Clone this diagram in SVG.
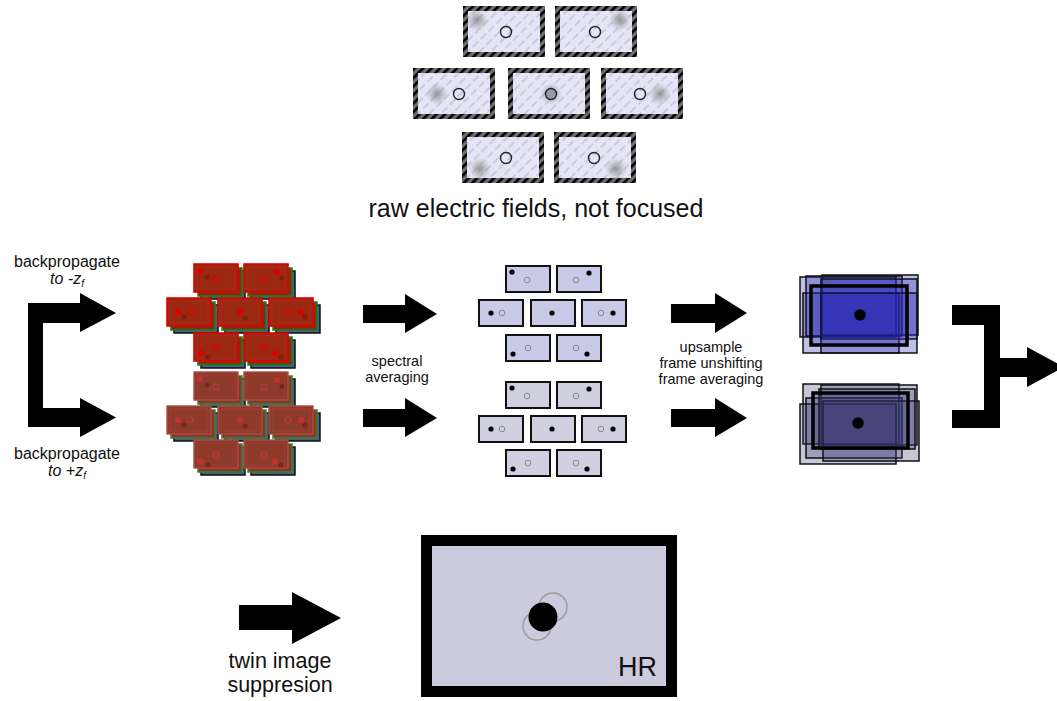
<svg xmlns="http://www.w3.org/2000/svg" xmlns:xlink="http://www.w3.org/1999/xlink" width="1057" height="701" viewBox="0 0 1057 701">
  <style>
    .lbl { font-family: "Liberation Sans", Arial, sans-serif; fill: #111; }
    .it { font-style: italic; }
    .arrow { fill: #000; }
    .hole { fill: none; stroke: #222; stroke-width: 1.4; }
    .pbox { stroke: #111; stroke-width: 2; }
    .pa { fill: #c9c9e8; }
    .pb { fill: #d0d0e0; }
    .dot { fill: #000; }
    .ring { fill: none; stroke: #888; stroke-width: 1; }
    .stackA rect { fill: #2323b0; fill-opacity: 0.29; stroke: #111; stroke-width: 1.5; }
    .stackB rect { fill: #34346e; fill-opacity: 0.28; stroke: #111; stroke-width: 1.5; }
    .stackA rect.thick, .stackB rect.thick { stroke-width: 3.5; stroke: #000; }
  </style>
  <defs>
    <!-- striped frame of the raw field tiles -->
    <pattern id="frameStripe" patternUnits="userSpaceOnUse" width="6" height="6" patternTransform="rotate(45)">
      <rect width="6" height="6" fill="#6e6e6e"/>
      <rect x="0" y="0" width="2.6" height="6" fill="#000"/>
    </pattern>
    <!-- faint diagonal dashes inside the raw field tiles -->
    <pattern id="hatch" patternUnits="userSpaceOnUse" width="11" height="8" patternTransform="rotate(-45)">
      <rect width="11" height="8" fill="#e5e5f3"/>
      <line x1="1" y1="4" x2="7" y2="4" stroke="#c8c8e8" stroke-width="2" stroke-linecap="round"/>
    </pattern>
    <radialGradient id="blob">
      <stop offset="0" stop-color="#777" stop-opacity="0.75"/>
      <stop offset="0.5" stop-color="#888" stop-opacity="0.4"/>
      <stop offset="1" stop-color="#999" stop-opacity="0"/>
    </radialGradient>
    <!-- raw tile: striped frame with hatched interior -->
    <g id="rawTile">
      <rect x="0" y="0" width="82" height="51" fill="url(#frameStripe)"/>
      <rect x="5" y="5" width="72" height="41" fill="url(#hatch)"/>
    </g>
    <!-- colour-channel stack, bright -->
    <g id="rbA">
      <rect x="7" y="7" width="44" height="28" fill="#4a5a9a" stroke="#111" stroke-width="1.5"/>
      <rect x="4" y="4" width="44" height="28" fill="#8a2a14" stroke="#0a8a0a" stroke-width="1.5"/>
      <rect x="0" y="0" width="44" height="28" fill="#9b2912" stroke="#e00000" stroke-width="1.6"/>
      <rect x="3" y="3" width="38" height="22" fill="none" stroke="#b8301c" stroke-width="0.8" opacity="0.7"/>
    </g>
    <!-- colour-channel stack, muted -->
    <g id="rbB">
      <rect x="7" y="7" width="44" height="28" fill="#4a5a8e" stroke="#111" stroke-width="1.5"/>
      <rect x="4" y="4" width="44" height="28" fill="#8a3628" stroke="#2a8a2a" stroke-width="1.5"/>
      <rect x="0" y="0" width="44" height="28" fill="#8e3a2a" stroke="#b04848" stroke-width="1.4"/>
      <rect x="3" y="3" width="38" height="22" fill="none" stroke="#a8443a" stroke-width="0.8" opacity="0.7"/>
    </g>
  </defs>

  <!-- raw electric fields -->
  <g id="raw-fields">
    <use xlink:href="#rawTile" x="463" y="6"/>
    <use xlink:href="#rawTile" x="555" y="6"/>
    <use xlink:href="#rawTile" x="413" y="68"/>
    <use xlink:href="#rawTile" x="508" y="68"/>
    <use xlink:href="#rawTile" x="601" y="68"/>
    <use xlink:href="#rawTile" x="462" y="132"/>
    <use xlink:href="#rawTile" x="554" y="132"/>
    <circle cx="477" cy="20" r="11" fill="url(#blob)"/>
    <circle cx="620" cy="20" r="11" fill="url(#blob)"/>
    <circle cx="437" cy="94" r="11" fill="url(#blob)"/>
    <circle cx="551" cy="94" r="11" fill="url(#blob)"/>
    <circle cx="660" cy="94" r="11" fill="url(#blob)"/>
    <circle cx="480" cy="169" r="11" fill="url(#blob)"/>
    <circle cx="616" cy="169" r="11" fill="url(#blob)"/>
    <circle class="hole" cx="506" cy="32" r="5.5"/>
    <circle class="hole" cx="595" cy="32" r="5.5"/>
    <circle class="hole" cx="459" cy="94" r="5.5"/>
    <circle class="hole" cx="551" cy="94" r="5.5" style="fill:#9a9aa6"/>
    <circle class="hole" cx="640" cy="94" r="5.5"/>
    <circle class="hole" cx="506" cy="158" r="5.5"/>
    <circle class="hole" cx="594" cy="158" r="5.5"/>
    <text class="lbl" x="536" y="217" font-size="25" text-anchor="middle">raw electric fields, not focused</text>
  </g>

  <!-- backpropagated colour stacks -->
  <g id="backprop-stacks">
    <use xlink:href="#rbA" x="194" y="264"/>
    <use xlink:href="#rbA" x="244" y="264"/>
    <use xlink:href="#rbA" x="167" y="298"/>
    <use xlink:href="#rbA" x="218" y="298"/>
    <use xlink:href="#rbA" x="269" y="298"/>
    <use xlink:href="#rbA" x="194" y="333"/>
    <use xlink:href="#rbA" x="244" y="333"/>
    <g fill="#e00000">
      <circle cx="200" cy="271" r="3"/>
      <circle cx="277" cy="272" r="3"/>
      <circle cx="178" cy="312" r="3"/>
      <circle cx="240" cy="312" r="3"/>
      <circle cx="301" cy="312" r="3"/>
      <circle cx="201" cy="353" r="3"/>
      <circle cx="275" cy="353" r="3"/>
    </g>
    <g fill="none" stroke="#e00000" stroke-width="1.2">
      <circle cx="216" cy="279" r="3"/>
      <circle cx="264" cy="279" r="3"/>
      <circle cx="190" cy="312" r="3"/>
      <circle cx="288" cy="312" r="3"/>
      <circle cx="216" cy="347" r="3"/>
      <circle cx="264" cy="347" r="3"/>
    </g>
    <g fill="#6e1c0c" opacity="0.6">
      <circle cx="207" cy="277" r="2.6"/>
      <circle cx="282" cy="278" r="2.6"/>
      <circle cx="184" cy="317" r="2.6"/>
      <circle cx="245" cy="318" r="2.6"/>
      <circle cx="305" cy="317" r="2.6"/>
      <circle cx="208" cy="357" r="2.6"/>
      <circle cx="281" cy="357" r="2.6"/>
    </g>

    <use xlink:href="#rbB" x="194" y="372"/>
    <use xlink:href="#rbB" x="244" y="372"/>
    <use xlink:href="#rbB" x="167" y="406"/>
    <use xlink:href="#rbB" x="218" y="406"/>
    <use xlink:href="#rbB" x="269" y="406"/>
    <use xlink:href="#rbB" x="194" y="440"/>
    <use xlink:href="#rbB" x="244" y="440"/>
    <g fill="#c83030">
      <circle cx="200" cy="379" r="3"/>
      <circle cx="277" cy="380" r="3"/>
      <circle cx="178" cy="420" r="3"/>
      <circle cx="240" cy="420" r="3"/>
      <circle cx="301" cy="420" r="3"/>
      <circle cx="201" cy="461" r="3"/>
      <circle cx="275" cy="461" r="3"/>
    </g>
    <g fill="none" stroke="#b83a3a" stroke-width="1.1">
      <circle cx="216" cy="387" r="3"/>
      <circle cx="264" cy="387" r="3"/>
      <circle cx="190" cy="420" r="3"/>
      <circle cx="288" cy="420" r="3"/>
      <circle cx="216" cy="455" r="3"/>
      <circle cx="264" cy="455" r="3"/>
    </g>
    <g fill="#5e1c10" opacity="0.55">
      <circle cx="207" cy="385" r="2.6"/>
      <circle cx="282" cy="386" r="2.6"/>
      <circle cx="184" cy="425" r="2.6"/>
      <circle cx="245" cy="426" r="2.6"/>
      <circle cx="305" cy="425" r="2.6"/>
      <circle cx="208" cy="465" r="2.6"/>
      <circle cx="281" cy="465" r="2.6"/>
    </g>
  </g>

  <!-- spectrally averaged frames -->
  <g id="spectral-averaged">
    <rect class="pbox pa" x="506" y="266" width="44" height="26"/>
    <rect class="pbox pa" x="557" y="266" width="44" height="26"/>
    <rect class="pbox pa" x="479" y="300" width="44" height="26"/>
    <rect class="pbox pa" x="531" y="300" width="44" height="26"/>
    <rect class="pbox pa" x="582" y="300" width="44" height="26"/>
    <rect class="pbox pa" x="506" y="335" width="44" height="26"/>
    <rect class="pbox pa" x="557" y="335" width="44" height="26"/>
    <circle class="dot" cx="512" cy="272" r="2.6"/>
    <circle class="dot" cx="589" cy="273" r="2.6"/>
    <circle class="dot" cx="491" cy="313" r="2.6"/>
    <circle class="dot" cx="552" cy="313" r="2.6"/>
    <circle class="dot" cx="613" cy="313" r="2.6"/>
    <circle class="dot" cx="513" cy="354" r="2.6"/>
    <circle class="dot" cx="587" cy="354" r="2.6"/>
    <circle class="ring" cx="527" cy="280" r="2.8"/>
    <circle class="ring" cx="576" cy="280" r="2.8"/>
    <circle class="ring" cx="502" cy="313" r="2.8"/>
    <circle class="ring" cx="601" cy="313" r="2.8"/>
    <circle class="ring" cx="528" cy="348" r="2.8"/>
    <circle class="ring" cx="576" cy="348" r="2.8"/>

    <rect class="pbox pb" x="506" y="382" width="44" height="26"/>
    <rect class="pbox pb" x="557" y="382" width="44" height="26"/>
    <rect class="pbox pb" x="479" y="416" width="44" height="26"/>
    <rect class="pbox pb" x="531" y="416" width="44" height="26"/>
    <rect class="pbox pb" x="582" y="416" width="44" height="26"/>
    <rect class="pbox pb" x="506" y="450" width="44" height="26"/>
    <rect class="pbox pb" x="557" y="450" width="44" height="26"/>
    <circle class="dot" cx="512" cy="388" r="2.6"/>
    <circle class="dot" cx="589" cy="389" r="2.6"/>
    <circle class="dot" cx="491" cy="429" r="2.6"/>
    <circle class="dot" cx="552" cy="429" r="2.6"/>
    <circle class="dot" cx="613" cy="429" r="2.6"/>
    <circle class="dot" cx="513" cy="469" r="2.6"/>
    <circle class="dot" cx="587" cy="469" r="2.6"/>
    <circle class="ring" cx="527" cy="396" r="2.8"/>
    <circle class="ring" cx="576" cy="396" r="2.8"/>
    <circle class="ring" cx="502" cy="429" r="2.8"/>
    <circle class="ring" cx="601" cy="429" r="2.8"/>
    <circle class="ring" cx="528" cy="463" r="2.8"/>
    <circle class="ring" cx="576" cy="463" r="2.8"/>
  </g>

  <!-- upsampled, unshifted frame stacks -->
  <g id="frame-stack-minus" class="stackA">
    <rect x="800" y="277" width="96" height="60"/>
    <rect x="822" y="275" width="96" height="60"/>
    <rect x="803" y="293" width="96" height="60"/>
    <rect x="806" y="276" width="96" height="60"/>
    <rect x="821" y="279" width="96" height="60"/>
    <rect x="821" y="293" width="96" height="60"/>
    <rect class="thick" x="811" y="286" width="96" height="59"/>
    <circle cx="860" cy="315" r="5.8" fill="#000"/>
  </g>
  <g id="frame-stack-plus" class="stackB">
    <rect x="803" y="384" width="96" height="60"/>
    <rect x="821" y="385" width="96" height="60"/>
    <rect x="800" y="404" width="96" height="60"/>
    <rect x="806" y="398" width="96" height="60"/>
    <rect x="823" y="401" width="96" height="60"/>
    <rect x="819" y="389" width="96" height="60"/>
    <rect class="thick" x="813" y="393" width="95" height="55"/>
    <circle cx="858" cy="423" r="5.8" fill="#000"/>
  </g>

  <!-- high resolution result -->
  <g id="hr-result">
    <rect x="426.5" y="540.5" width="245" height="151" fill="#cccbdd" stroke="#000" stroke-width="11"/>
    <circle cx="537" cy="626" r="14" fill="none" stroke="#999" stroke-width="1.4"/>
    <circle cx="553" cy="607" r="14" fill="none" stroke="#999" stroke-width="1.4"/>
    <circle cx="543" cy="617" r="14.5" fill="#000"/>
    <text class="lbl" x="657" y="676" font-size="27" text-anchor="end">HR</text>
  </g>

  <!-- connectors -->
  <g id="connectors" class="arrow">
    <path d="M28,303 H80 V293 L116,313 L80,332 V323 H43 V408 H80 V398 L116,417.5 L80,437 V427 H28 Z"/>
    <path d="M363,305 H405 V294 L437,314 L405,333 V323 H363 Z"/>
    <path d="M363,409 H405 V398 L437,418 L405,437 V427 H363 Z"/>
    <path d="M671,304 H715 V293 L747,313 L715,333 V323 H671 Z"/>
    <path d="M671,409 H715 V398 L747,418 L715,437 V427 H671 Z"/>
    <path d="M952,305 H1000 V358 H1027 V347 L1064,367 L1027,387 V377 H1000 V428 H952 V410 H984 V325 H952 Z"/>
    <path d="M239,605 H292 V592 L341,618 L292,644 V630 H239 Z"/>
  </g>

  <!-- step labels -->
  <g id="labels">
    <text class="lbl" x="67" y="267" font-size="16" text-anchor="middle">backpropagate</text>
    <text class="lbl it" x="67" y="284" font-size="16" text-anchor="middle">to -z<tspan font-size="10" dy="3">f</tspan></text>
    <text class="lbl" x="67" y="459" font-size="16" text-anchor="middle">backpropagate</text>
    <text class="lbl it" x="67" y="476" font-size="16" text-anchor="middle">to +z<tspan font-size="10" dy="3">f</tspan></text>
    <text class="lbl" x="397" y="366" font-size="14.5" text-anchor="middle">spectral</text>
    <text class="lbl" x="397" y="382" font-size="14.5" text-anchor="middle">averaging</text>
    <text class="lbl" x="711" y="352" font-size="14.5" text-anchor="middle">upsample</text>
    <text class="lbl" x="711" y="368" font-size="14.5" text-anchor="middle">frame unshifting</text>
    <text class="lbl" x="711" y="384" font-size="14.5" text-anchor="middle">frame averaging</text>
    <text class="lbl" x="280" y="668" font-size="21.5" text-anchor="middle">twin image</text>
    <text class="lbl" x="280" y="692" font-size="21.5" text-anchor="middle">suppresion</text>
  </g>
</svg>
